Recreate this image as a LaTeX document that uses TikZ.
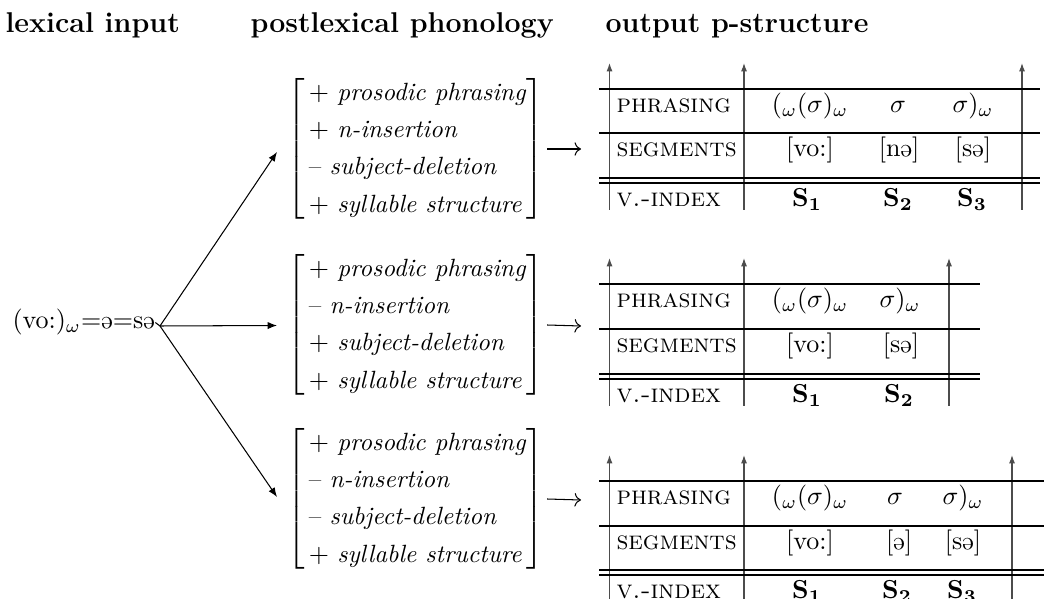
\documentclass[tikz,border=0pt]{standalone}
\usepackage{graphicx}
\usetikzlibrary{arrows.meta,calc}
\newcommand{\shwa}{\rotatebox[origin=c]{180}{e}}
\renewcommand{\arraystretch}{1.19}
\tikzset{
 hdr/.style={font=\fontsize{11}{13}\selectfont\bfseries, inner sep=0pt, anchor=base west},
 brk/.style={inner sep=0pt, anchor=west, font=\fontsize{9.6}{12}\selectfont},
 lab/.style={inner sep=0pt, anchor=base west, font=\fontsize{10}{12}\selectfont\scshape},
 cell/.style={inner sep=0pt, anchor=base, font=\fontsize{10}{12}\selectfont},
 hl/.style={line width=0.8pt},
 vl/.style={line width=0.45pt, black!70, -{Latex[length=3.2pt,width=2.3pt]}},
 branch/.style={line width=0.4pt, -{Latex[length=3.6pt,width=2.8pt]}},
 lra/.style={line width=0.4pt, -{Computer Modern Rightarrow}},
}
\begin{document}
\begin{tikzpicture}[x=0.3846pt,y=-0.3846pt]
\useasboundingbox (0,0) rectangle (1044,599);
% headers
\node[hdr] (h1) at (5,33) {lexical input};
\node[hdr] (h2) at (250,33) {postlexical phonology};
\node[hdr] (h3) at (605,33) {output p-structure};
% source
\node[anchor=base west, inner sep=0pt, font=\fontsize{10}{12}\selectfont] (src) at (12,329) {(vo:)$_\omega$=\shwa=s\shwa};
\coordinate (fork) at (160,326);
% brackets
\node[brk] (b1) at (287,149) {$\left[\begin{tabular}{@{\hspace{1.5pt}}l@{}}$+$ \textit{prosodic phrasing}\\ $+$ \textit{n-insertion}\\ -- \textit{subject-deletion}\\ $+$ \textit{syllable structure}\end{tabular}\right]$};
\node[brk] (b2) at (287,325) {$\left[\begin{tabular}{@{\hspace{1.5pt}}l@{}}$+$ \textit{prosodic phrasing}\\ -- \textit{n-insertion}\\ $+$ \textit{subject-deletion}\\ $+$ \textit{syllable structure}\end{tabular}\right]$};
\node[brk] (b3) at (287,499) {$\left[\begin{tabular}{@{\hspace{1.5pt}}l@{}}$+$ \textit{prosodic phrasing}\\ -- \textit{n-insertion}\\ -- \textit{subject-deletion}\\ $+$ \textit{syllable structure}\end{tabular}\right]$};
\draw[line width=0.4pt] (src.east) -- (fork);
\draw[branch] (fork) -- ($(b1.west)+(-10,3)$);
\draw[branch] (fork) -- ($(b2.west)+(-10,0.5)$);
\draw[branch] (fork) -- ($(b3.west)+(-10,-2)$);
% table 1
\coordinate (t1in) at (581,149);
\draw[lra] ($(b1.east)+(3,0)$) -- (t1in);
\foreach \x in {609.5,744,1022} \draw[vl] (\x,210) -- (\x,63);
\foreach \y in {89,133,178,183} \draw[hl] (599,\y) -- (1040,\y);
\node[lab] (t1a) at (616,112.5) {phrasing};
\node[lab] (t1b) at (616,156.5) {segments};
\node[lab] (t1c) at (616,206.5) {v.-index};
\node[cell] (t1a1) at (810,112.5) {$(_\omega(\sigma)_\omega$};
\node[cell] (t1a2) at (898,112.5) {$\sigma$};
\node[cell] (t1a3) at (973,112.5) {$\sigma)_\omega$};
\node[cell] (t1b1) at (810,156.5) {[vo:]};
\node[cell] (t1b2) at (899,156.5) {[n\shwa]};
\node[cell] (t1b3) at (973,156.5) {[s\shwa]};
\node[cell] (t1c1) at (807,206.5) {$\mathbf{S_1}$};
\node[cell] (t1c2) at (898,206.5) {$\mathbf{S_2}$};
\node[cell] (t1c3) at (972,206.5) {$\mathbf{S_3}$};
% table 2
\coordinate (t2in) at (581,326);
\draw[lra] ($(b2.east)+(3,0)$) -- (t2in);
\foreach \x in {609.5,744,949} \draw[vl] (\x,406) -- (\x,258);
\foreach \y in {284,329,374,379} \draw[hl] (599,\y) -- (980,\y);
\node[lab] (t2a) at (616,307.5) {phrasing};
\node[lab] (t2b) at (616,352.5) {segments};
\node[lab] (t2c) at (616,402.5) {v.-index};
\node[cell] (t2a1) at (810,307.5) {$(_\omega(\sigma)_\omega$};
\node[cell] (t2a2) at (900,307.5) {$\sigma)_\omega$};
\node[cell] (t2b1) at (810,352.5) {[vo:]};
\node[cell] (t2b2) at (901,352.5) {[s\shwa]};
\node[cell] (t2c1) at (807,402.5) {$\mathbf{S_1}$};
\node[cell] (t2c2) at (899,402.5) {$\mathbf{S_2}$};
% table 3
\coordinate (t3in) at (581,500);
\draw[lra] ($(b3.east)+(3,0)$) -- (t3in);
\foreach \x in {609.5,744,1012} \draw[vl] (\x,600) -- (\x,455);
\foreach \y in {481,526,570,575} \draw[hl] (599,\y) -- (1044,\y);
\node[lab] (t3a) at (616,504.5) {phrasing};
\node[lab] (t3b) at (616,549.5) {segments};
\node[lab] (t3c) at (616,598.5) {v.-index};
\node[cell] (t3a1) at (810,504.5) {$(_\omega(\sigma)_\omega$};
\node[cell] (t3a2) at (895,504.5) {$\sigma$};
\node[cell] (t3a3) at (963,504.5) {$\sigma)_\omega$};
\node[cell] (t3b1) at (810,549.5) {[vo:]};
\node[cell] (t3b2) at (899,549.5) {[\shwa]};
\node[cell] (t3b3) at (963,549.5) {[s\shwa]};
\node[cell] (t3c1) at (807,598.5) {$\mathbf{S_1}$};
\node[cell] (t3c2) at (897,598.5) {$\mathbf{S_2}$};
\node[cell] (t3c3) at (962,598.5) {$\mathbf{S_3}$};
\end{tikzpicture}
\end{document}
